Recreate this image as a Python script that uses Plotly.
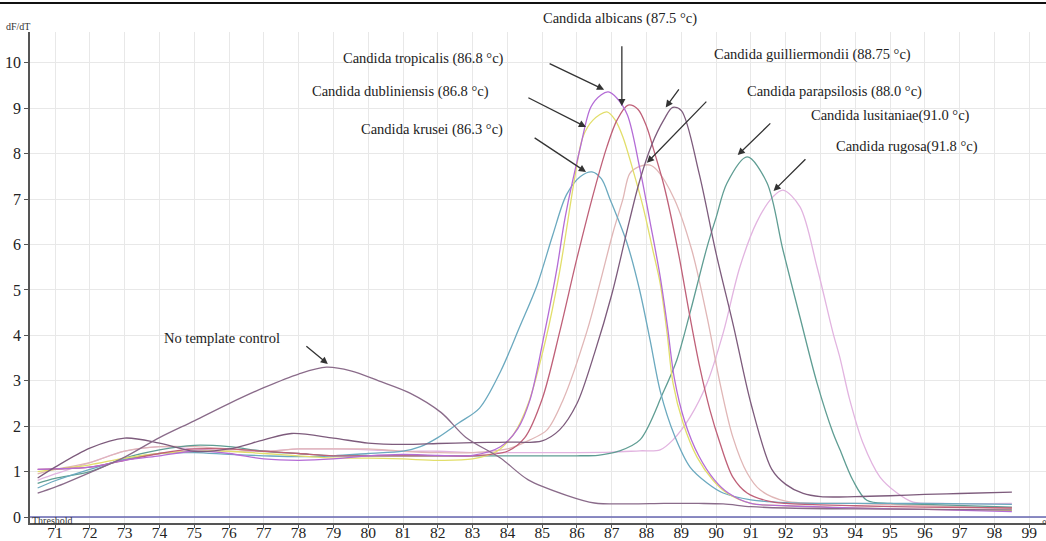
import plotly.graph_objects as go

# ---------------- data ----------------
ntc_t = [70.5, 71, 72, 73, 74, 75, 76, 77, 78, 78.8, 79.5, 80.3, 81.2, 82.1, 82.8, 83.8, 84.6, 85.7, 86.5, 87.5, 88.5, 89.5, 90.2, 91, 92, 94, 96, 98.5]
ntc_v = [0.53, 0.66, 0.98, 1.32, 1.75, 2.12, 2.5, 2.85, 3.15, 3.3, 3.22, 3.0, 2.73, 2.3, 1.76, 1.3, 0.82, 0.48, 0.31, 0.29, 0.3, 0.3, 0.29, 0.23, 0.2, 0.18, 0.17, 0.16]

gui_t = [70.5, 71, 72, 73, 74, 75, 76, 77, 77.8, 79, 80, 81, 82, 83, 84, 85, 85.5, 86, 86.5, 87, 87.5, 87.8, 88.15, 88.5, 88.75, 89, 89.5, 90, 90.5, 91, 91.6, 92, 92.5, 93, 94, 95, 96, 97, 98.5]
gui_v = [0.86, 1.1, 1.52, 1.74, 1.63, 1.45, 1.5, 1.7, 1.84, 1.74, 1.63, 1.6, 1.62, 1.64, 1.65, 1.68, 1.92, 2.5, 3.6, 4.9, 6.5, 7.4, 8.2, 8.75, 9.02, 8.95, 7.6, 5.8, 4.2, 2.5, 1.05, 0.72, 0.52, 0.45, 0.45, 0.47, 0.5, 0.52, 0.55]

kru_t = [70.5, 71, 72, 73, 74, 75, 76, 77, 78, 79, 80, 81, 81.5, 82, 82.6, 83.2, 83.8, 84.36, 84.85, 85.3, 85.7, 86.1, 86.43, 86.7, 86.95, 87.44, 87.8, 88.1, 88.4, 88.8, 89.25, 89.74, 90.2, 91, 92, 94, 96, 98.5]
kru_v = [0.64, 0.8, 1.05, 1.27, 1.4, 1.42, 1.38, 1.35, 1.33, 1.35, 1.4, 1.45, 1.55, 1.75, 2.07, 2.4, 3.2, 4.2, 5.1, 6.2, 7.1, 7.5, 7.6, 7.45, 7.0, 6.03, 5.0, 3.9, 2.75, 1.8, 1.1, 0.75, 0.53, 0.38, 0.32, 0.3, 0.3, 0.28]

tro_t = [70.5, 71, 72, 73, 74, 75, 76, 77, 78, 79, 80, 81, 82, 83, 83.8, 84.3, 84.65, 85.08, 85.43, 85.66, 86.1, 86.4, 86.7, 86.9, 87.15, 87.45, 87.8, 88.1, 88.39, 88.6, 88.8, 89.1, 89.5, 89.95, 90.35, 91, 92, 94, 96, 98.5]
tro_v = [1.05, 1.06, 1.1, 1.25, 1.35, 1.45, 1.4, 1.28, 1.25, 1.28, 1.35, 1.38, 1.36, 1.36, 1.55, 1.95, 2.58, 4.1, 5.5, 6.6, 8.15, 9.03, 9.3, 9.36, 9.22, 8.85, 7.7, 6.5, 5.3, 4.2, 3.05, 2.1, 1.35, 0.82, 0.53, 0.3, 0.25, 0.2, 0.17, 0.12]

dub_t = [70.5, 71, 72, 73, 74, 75, 76, 77, 78, 79, 80, 81, 82, 83, 83.7, 84.2, 84.6, 85.1, 85.5, 85.94, 86.17, 86.46, 86.86, 87.1, 87.32, 87.61, 87.9, 88.18, 88.39, 88.59, 88.76, 89.05, 89.45, 89.91, 90.31, 91, 92, 94, 96, 98.5]
dub_v = [1.0, 1.05, 1.15, 1.3, 1.4, 1.45, 1.45, 1.4, 1.35, 1.3, 1.3, 1.28, 1.25, 1.28, 1.45, 1.85, 2.5, 3.9, 5.4, 7.49, 8.37, 8.74, 8.92, 8.74, 8.37, 7.64, 6.83, 5.88, 5.15, 4.05, 2.95, 2.07, 1.32, 0.81, 0.53, 0.3, 0.25, 0.2, 0.17, 0.15]

alb_t = [70.5, 71, 72, 73, 74, 75, 76, 77, 78, 79, 80, 81, 82, 83, 84, 84.5, 85.0, 85.51, 86.0, 86.5, 86.86, 87.15, 87.47, 87.75, 88.0, 88.2, 88.5, 88.9, 89.25, 89.53, 89.82, 90.11, 90.48, 90.89, 91.5, 92, 94, 96, 98.5]
alb_v = [1.05, 1.06, 1.1, 1.25, 1.4, 1.5, 1.5, 1.45, 1.4, 1.35, 1.35, 1.35, 1.35, 1.35, 1.45, 1.75, 2.6, 4.1, 5.7, 7.2, 8.15, 8.74, 9.07, 8.98, 8.6, 8.1, 7.3, 5.88, 4.4, 3.3, 2.36, 1.63, 0.88, 0.53, 0.35, 0.3, 0.25, 0.22, 0.2]

par_t = [70.5, 71, 72, 73, 74, 75, 76, 77, 78, 79, 80, 81, 82, 83, 84, 84.65, 85.14, 85.6, 86.29, 86.66, 87.03, 87.32, 87.52, 87.8, 88.1, 88.3, 88.8, 89.3, 89.74, 90.11, 90.48, 90.89, 91.26, 92, 94, 96, 98.5]
par_v = [0.95, 1.05, 1.2, 1.45, 1.55, 1.55, 1.5, 1.45, 1.5, 1.5, 1.5, 1.45, 1.42, 1.42, 1.5, 1.7, 1.92, 2.58, 4.1, 5.15, 6.25, 7.0, 7.57, 7.72, 7.75, 7.64, 7.0, 5.88, 4.4, 2.95, 1.76, 0.97, 0.6, 0.35, 0.3, 0.25, 0.2]

lus_t = [70.5, 71, 72, 73, 74, 75, 76, 77, 78, 79, 80, 81, 82, 83, 84, 85, 86, 86.6, 87.2, 87.81, 88.47, 88.87, 89.25, 89.74, 90.0, 90.31, 90.89, 91.46, 91.92, 92.41, 92.9, 93.36, 93.56, 93.93, 94.33, 95, 96, 98.5]
lus_v = [0.74, 0.85, 1.0, 1.3, 1.48, 1.58, 1.55, 1.45, 1.4, 1.35, 1.35, 1.35, 1.35, 1.35, 1.35, 1.35, 1.35, 1.36, 1.45, 1.7, 2.73, 3.46, 4.5, 5.95, 6.6, 7.35, 7.93, 7.36, 5.88, 4.4, 2.95, 1.85, 1.48, 0.81, 0.37, 0.3, 0.28, 0.22]

rug_t = [70.5, 71, 72, 73, 74, 75, 76, 77, 78, 79, 80, 81, 82, 83, 84, 85, 86, 87, 87.81, 88.39, 88.76, 89.25, 89.74, 90.2, 90.68, 91.17, 91.63, 91.92, 92.41, 92.9, 93.36, 93.56, 93.84, 94.22, 94.71, 95.2, 95.66, 96.5, 98.5]
rug_v = [0.81, 0.95, 1.2, 1.45, 1.55, 1.5, 1.45, 1.45, 1.5, 1.5, 1.48, 1.45, 1.45, 1.42, 1.42, 1.42, 1.42, 1.43, 1.46, 1.48, 1.7, 2.2, 2.95, 4.05, 5.5, 6.5, 7.05, 7.2, 6.83, 5.5, 4.05, 3.5, 2.58, 1.63, 0.88, 0.53, 0.33, 0.3, 0.3]

x_ticks = list(range(71, 100))
y_ticks = list(range(0, 11))

species = ["Candida albicans", "Candida tropicalis", "Candida dubliniensis", "Candida krusei",
           "Candida guilliermondii", "Candida parapsilosis", "Candida lusitaniae", "Candida rugosa",
           "No template control"]
tm_text = [" (87.5 °c)", " (86.8 °c)", " (86.8 °c)", " (86.3 °c)",
           " (88.75 °c)", " (88.0 °c)", "(91.0 °c)", "(91.8 °c)", ""]

# ---------------- figure ----------------
SERIF = "Liberation Serif"
W, H = 1046, 541
ML, MR, MT, MB = 30, 0, 32, 18
PW, PH = W - ML - MR, H - MT - MB


def px_to_paper(px, py):
    return (px - ML) / PW, (H - MB - py) / PH


fig = go.Figure()

traces = [
    (rug_t, rug_v, "#e2b4e0"),
    (par_t, par_v, "#e0b6b6"),
    (lus_t, lus_v, "#5f9d93"),
    (kru_t, kru_v, "#6ba9bf"),
    (dub_t, dub_v, "#e2de6a"),
    (alb_t, alb_v, "#bf6078"),
    (tro_t, tro_v, "#b46cd6"),
    (gui_t, gui_v, "#7d5b7c"),
    (ntc_t, ntc_v, "#8a6b8a"),
]
for t, v, c in traces:
    fig.add_trace(go.Scatter(x=t, y=v, mode="lines",
                             line=dict(color=c, width=1.3, shape="spline", smoothing=0.9),
                             showlegend=False, hoverinfo="skip"))

# threshold line at 0
fig.add_shape(type="line", xref="paper", x0=0, x1=1, yref="y", y0=0, y1=0,
              line=dict(color="#6666b0", width=1.5))
# top border of the image
bx0, by = px_to_paper(0, 3)
fig.add_shape(type="line", xref="paper", x0=bx0, x1=1.0, yref="paper", y0=by, y1=by,
              line=dict(color="#111111", width=2))

# text label centres (pixel positions in the picture)
label_px = [(620, 19), (423, 59), (400, 91), (432, 129),
            (812, 54), (834, 91), (890, 115), (907, 146), (222, 338)]
# arrows: tail -> tip (data coords)
arrows = [((87.29, 10.40), (87.29, 9.05)),
          ((85.17, 10.00), (86.78, 9.41)),
          ((84.56, 9.25), (86.26, 8.59)),
          ((84.74, 8.37), (86.26, 7.60)),
          ((88.96, 9.45), (88.55, 9.02)),
          ((89.76, 9.18), (88.01, 7.80)),
          ((91.60, 8.70), (90.62, 7.97)),
          ((92.61, 7.91), (91.65, 7.18)),
          ((78.18, 3.79), (78.84, 3.37))]

for name, tm, (lx, ly) in zip(species, tm_text, label_px):
    px_, py_ = px_to_paper(lx, ly)
    fig.add_annotation(x=px_, y=py_, xref="paper", yref="paper", text=name + tm, showarrow=False,
                       font=dict(family=SERIF, size=14.5, color="#222222"),
                       xanchor="center", yanchor="middle")
for (ax, ay), (x, y) in arrows:
    fig.add_annotation(x=x, y=y, ax=ax, ay=ay, xref="x", yref="y", axref="x", ayref="y",
                       text="", showarrow=True, arrowhead=2, arrowsize=1.1, arrowwidth=1.3,
                       arrowcolor="#333333", standoff=0, startstandoff=0)

dx, dy = px_to_paper(18, 26)
fig.add_annotation(x=dx, y=dy, xref="paper", yref="paper", text="dF/dT", showarrow=False,
                   font=dict(family=SERIF, size=10, color="#333333"), xanchor="center", yanchor="middle")
tx, ty = px_to_paper(31, 520)
fig.add_annotation(x=tx, y=ty, xref="paper", yref="paper", text="Threshold", showarrow=False,
                   font=dict(family=SERIF, size=10, color="#333333"), xanchor="left", yanchor="middle",
                   borderpad=0)
cx, cy = px_to_paper(1040, 524)
fig.add_annotation(x=cx, y=cy, xref="paper", yref="paper", text="°", showarrow=False,
                   font=dict(family=SERIF, size=12, color="#333333"), xanchor="left", yanchor="middle")

fig.update_layout(
    width=W, height=H,
    margin=dict(l=ML, r=MR, t=MT, b=MB, autoexpand=False),
    paper_bgcolor="white", plot_bgcolor="white",
    xaxis=dict(range=[70.28, 99.48], tickvals=x_ticks, ticktext=[str(v) for v in x_ticks],
               showgrid=True, gridcolor="#e8e8e8", gridwidth=1, zeroline=False,
               showline=True, linecolor="#555555", linewidth=1.5, automargin=False,
               ticks="outside", ticklen=3, tickcolor="#555555",
               tickfont=dict(family=SERIF, size=15.5, color="#222222"), ticklabelstandoff=-8),
    yaxis=dict(range=[-0.13, 10.68], tickvals=y_ticks, ticktext=[str(v) for v in y_ticks],
               showgrid=True, gridcolor="#e8e8e8", gridwidth=1, zeroline=False,
               showline=True, linecolor="#555555", linewidth=1.5, automargin=False,
               ticks="outside", ticklen=4, tickcolor="#555555",
               tickfont=dict(family=SERIF, size=16, color="#222222")),
)

fig.write_html("out.html")
